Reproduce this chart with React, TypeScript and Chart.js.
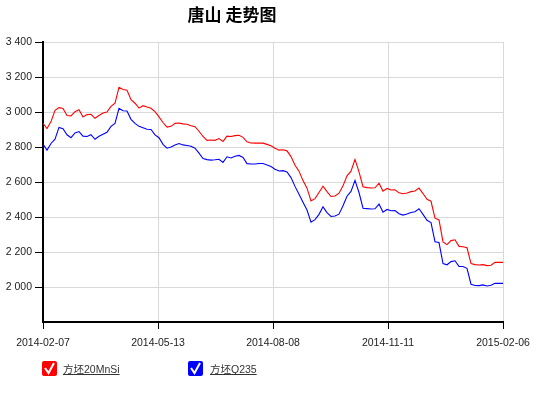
import React, { useEffect, useRef } from 'react';
import { Chart, registerables } from 'chart.js';

Chart.register(...registerables);

const chartTitle = '唐山 走势图';
const xTickLabels = ['2014-02-07', '2014-05-13', '2014-08-08', '2014-11-11', '2015-02-06'];
const seriesNames = ['方坯20MnSi', '方坯Q235'];
const seriesColors = ['#ff0000', '#0000ff'];
const yTickValues = [2000, 2200, 2400, 2600, 2800, 3000, 3200, 3400];

const price20MnSi = [
  2935, 2905, 2945, 3010, 3025, 3020, 2980, 2978, 3002, 3013,
  2972, 2985, 2987, 2964, 2980, 2994, 3000, 3032, 3050, 3141,
  3129, 3124, 3070, 3050, 3022, 3036, 3028, 3021, 3002, 2972,
  2940, 2914, 2918, 2935, 2937, 2932, 2930, 2921, 2916, 2890,
  2860, 2838, 2840, 2838, 2848, 2832, 2862, 2860, 2865, 2867,
  2855, 2830, 2823, 2822, 2822, 2822, 2815, 2807, 2793, 2782,
  2784, 2778, 2745, 2696, 2662, 2608, 2565, 2492, 2505, 2540,
  2576, 2545, 2517, 2520, 2536, 2578, 2635, 2662, 2729, 2658,
  2573, 2568, 2566, 2567, 2593, 2548, 2563, 2554, 2556, 2538,
  2533, 2537, 2545, 2549, 2565, 2534, 2501, 2490, 2393, 2383,
  2258, 2242, 2265, 2270, 2232, 2230, 2224, 2134, 2128, 2126,
  2128, 2122, 2124, 2141, 2141, 2141,
];

const priceQ235 = [
  2817, 2782, 2820, 2845, 2912, 2905, 2870, 2853, 2880, 2888,
  2862, 2860, 2870, 2844, 2861, 2873, 2884, 2918, 2935, 3021,
  3007, 3006, 2958, 2935, 2918, 2910, 2901, 2900, 2869, 2853,
  2815, 2793, 2800, 2811, 2820, 2812, 2809, 2804, 2793, 2765,
  2734, 2728, 2725, 2727, 2730, 2712, 2744, 2737, 2747, 2752,
  2740, 2705, 2703, 2703, 2706, 2706, 2697, 2689, 2673, 2663,
  2665, 2657, 2625, 2575, 2530, 2484, 2440, 2370, 2385, 2415,
  2458, 2425, 2403, 2406, 2416, 2464, 2519, 2546, 2609, 2540,
  2450, 2448, 2446, 2447, 2474, 2428, 2443, 2436, 2437, 2419,
  2411, 2417, 2426, 2430, 2447, 2415, 2381, 2368, 2259, 2254,
  2134, 2127, 2145, 2150, 2118, 2117, 2107, 2016, 2009, 2008,
  2012, 2006, 2010, 2021, 2021, 2021,
];

const pointIndex = price20MnSi.map((_, i) => i);

const formatThousands = (v: number) =>
  String(v).replace(/\B(?=(\d{3})+(?!\d))/g, ' ');

const decorPlugin = {
  id: 'decor',
  afterDraw(chart: any) {
    const ctx = chart.ctx as CanvasRenderingContext2D;
    ctx.save();
    // title
    ctx.fillStyle = '#000';
    ctx.font = 'bold 17px "Noto Sans CJK SC", sans-serif';
    ctx.textAlign = 'center';
    ctx.textBaseline = 'middle';
    ctx.fillText(chartTitle, 232, 15);

    // legend
    const items = [
      { box: 42, text: 63 },
      { box: 188, text: 210 },
    ];
    items.forEach((it, i) => {
      const bx = it.box;
      const by = 361;
      const s = 15;
      ctx.fillStyle = seriesColors[i];
      ctx.beginPath();
      const r = 2;
      ctx.moveTo(bx + r, by);
      ctx.lineTo(bx + s - r, by);
      ctx.quadraticCurveTo(bx + s, by, bx + s, by + r);
      ctx.lineTo(bx + s, by + s - r);
      ctx.quadraticCurveTo(bx + s, by + s, bx + s - r, by + s);
      ctx.lineTo(bx + r, by + s);
      ctx.quadraticCurveTo(bx, by + s, bx, by + s - r);
      ctx.lineTo(bx, by + r);
      ctx.quadraticCurveTo(bx, by, bx + r, by);
      ctx.fill();
      ctx.strokeStyle = '#fff';
      ctx.lineWidth = 2;
      ctx.beginPath();
      ctx.moveTo(bx + 3, by + 7);
      ctx.lineTo(bx + 6.5, by + 12);
      ctx.lineTo(bx + 12, by + 2);
      ctx.stroke();

      ctx.fillStyle = '#333';
      ctx.font = '10.5px "Liberation Sans", "Noto Sans CJK SC", sans-serif';
      ctx.textAlign = 'left';
      ctx.textBaseline = 'alphabetic';
      ctx.fillText(seriesNames[i], it.text, 373);
      const w = ctx.measureText(seriesNames[i]).width;
      ctx.strokeStyle = '#333';
      ctx.lineWidth = 1;
      ctx.beginPath();
      ctx.moveTo(it.text, 374.5);
      ctx.lineTo(it.text + w, 374.5);
      ctx.stroke();
    });
    ctx.restore();
  },
};

export default function App() {
  const canvasRef = useRef<HTMLCanvasElement | null>(null);

  useEffect(() => {
    if (!canvasRef.current) return;
    const last = pointIndex.length - 1;
    const chart = new Chart(canvasRef.current, {
      type: 'line',
      data: {
        labels: pointIndex,
        datasets: [
          {
            label: seriesNames[0],
            data: price20MnSi,
            borderColor: seriesColors[0],
            borderWidth: 1.1,
            pointRadius: 0,
            tension: 0,
            fill: false,
          },
          {
            label: seriesNames[1],
            data: priceQ235,
            borderColor: seriesColors[1],
            borderWidth: 1.1,
            pointRadius: 0,
            tension: 0,
            fill: false,
          },
        ],
      },
      options: {
        responsive: false,
        animation: false,
        events: [],
        layout: { padding: { top: 42, right: 42, left: 0, bottom: 0 } },
        plugins: {
          legend: { display: false },
          title: { display: false },
          tooltip: { enabled: false },
        },
        scales: {
          x: {
            type: 'linear',
            min: 0,
            max: last,
            afterFit: (scale: any) => {
              scale.height = 71;
            },
            afterBuildTicks: (scale: any) => {
              scale.ticks = xTickLabels.map((_, i) => ({ value: (last * i) / (xTickLabels.length - 1) }));
            },
            ticks: {
              autoSkip: false,
              maxRotation: 0,
              padding: 8,
              color: '#222',
              font: { family: '"Liberation Sans", Arial, sans-serif', size: 10.5 },
              callback: (_v: any, i: number) => xTickLabels[i],
            },
            grid: {
              color: '#d9d9d9',
              lineWidth: 1,
              tickLength: 7,
              tickColor: '#000',
            },
            border: { color: '#000', width: 2 },
          },
          y: {
            type: 'linear',
            min: 1800,
            max: 3400,
            afterFit: (scale: any) => {
              scale.width = 43;
            },
            afterBuildTicks: (scale: any) => {
              scale.ticks = yTickValues.map((v) => ({ value: v }));
            },
            ticks: {
              padding: 3,
              color: '#222',
              font: { family: '"Liberation Sans", Arial, sans-serif', size: 10.5 },
              callback: (v: any) => formatThousands(Number(v)),
            },
            grid: {
              color: '#d9d9d9',
              lineWidth: 1,
              tickLength: 8,
              tickColor: '#000',
            },
            border: { color: '#000', width: 2 },
          },
        },
      },
      plugins: [decorPlugin],
    } as any);
    return () => chart.destroy();
  }, []);

  return (
    <div style={{ position: 'fixed', left: 0, top: 0, width: 545, height: 393, background: '#fff' }}>
      <canvas ref={canvasRef} width={545} height={393} style={{ display: 'block' }} />
    </div>
  );
}
